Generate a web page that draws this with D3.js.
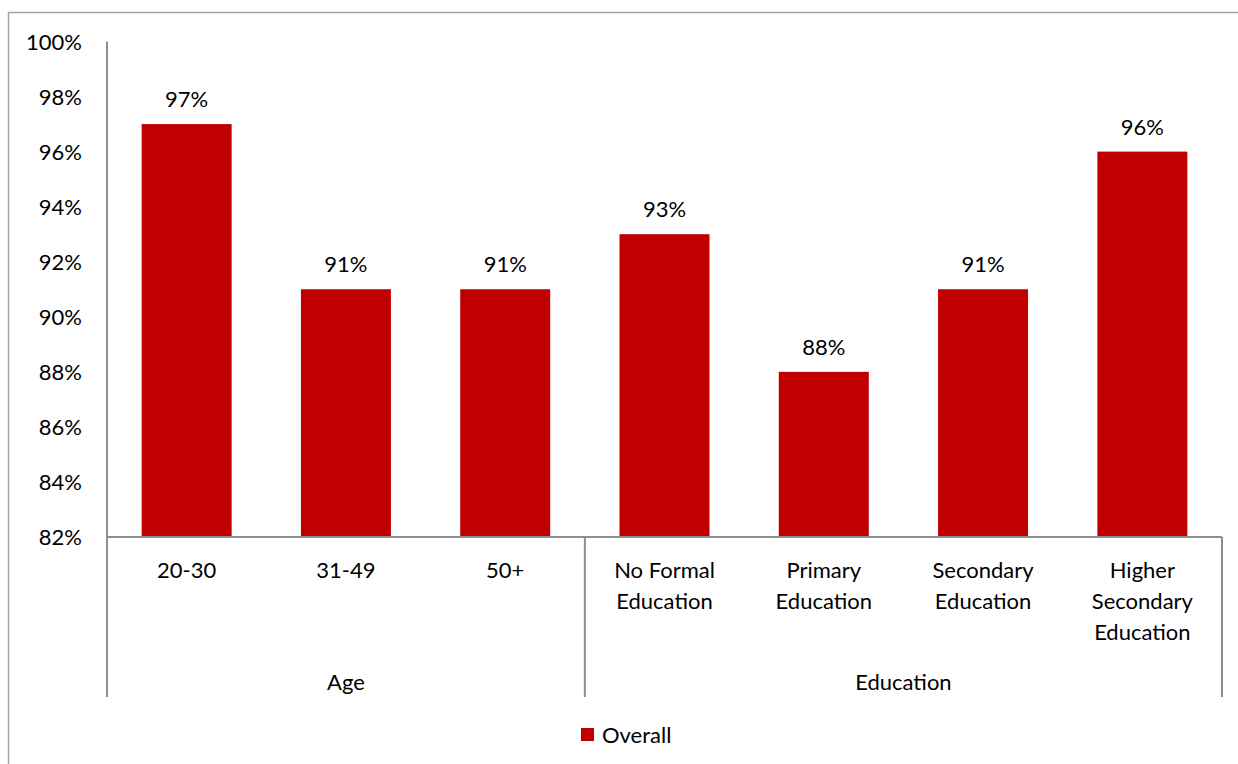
<!DOCTYPE html>
<html>
<head>
<meta charset="utf-8">
<script src="https://cdn.jsdelivr.net/npm/d3@7"></script>
<style>
  html, body { margin: 0; padding: 0; background: #fff; }
  svg { display: block; }
  text { font-family: "Lato", "Open Sans", sans-serif; fill: #000; }
</style>
</head>
<body>
<svg id="chart" width="1238" height="764"></svg>
<script>
// Share of respondents (Overall) by age and education group
const categories = ["20-30", "31-49", "50+", "No Formal Education", "Primary Education", "Secondary Education", "Higher Secondary Education"];
const categoryLines = [["20-30"], ["31-49"], ["50+"], ["No Formal", "Education"], ["Primary", "Education"], ["Secondary", "Education"], ["Higher", "Secondary", "Education"]];
const groups = ["Age", "Education"];
const groupSizes = [3, 4];
const overall = [97, 91, 91, 93, 88, 91, 96];
const yTicks = [82, 84, 86, 88, 90, 92, 94, 96, 98, 100];
const seriesName = "Overall";

const W = 1238, H = 764;
const margin = { left: 107, right: 16, top: 42, bottom: 227 };
const plotBottom = 537, plotTop = 41.5;
const axisColor = "#8e8e8e";
const barColor = "#C00000";

const svg = d3.select("#chart");

// outer frame
svg.append("rect")
  .attr("x", 8.5).attr("y", 12.5)
  .attr("width", W).attr("height", H)
  .attr("fill", "none").attr("stroke", "#a6a6a6").attr("stroke-width", 1.5);

const x = d3.scaleBand()
  .domain(categories)
  .range([107, 1222])
  .paddingInner(0.435)
  .paddingOuter(0.2175);

const y = d3.scaleLinear()
  .domain([82, 100])
  .range([plotBottom, plotTop]);

// y axis
const yAxis = d3.axisLeft(y)
  .tickValues(yTicks)
  .tickSize(0)
  .tickPadding(25)
  .tickFormat(d => d + "%");

const yg = svg.append("g").attr("transform", "translate(107,0)").call(yAxis);
yg.select(".domain").remove();
yg.selectAll("text").style("font-size", "22px").attr("dy", "0.35em");

// bars
svg.append("g").selectAll("rect")
  .data(overall)
  .join("rect")
  .attr("x", (d, i) => x(categories[i]))
  .attr("y", d => y(d))
  .attr("width", x.bandwidth())
  .attr("height", d => y(82) - y(d))
  .attr("fill", barColor);

// value labels
svg.append("g").selectAll("text")
  .data(overall)
  .join("text")
  .attr("x", (d, i) => x(categories[i]) + x.bandwidth() / 2)
  .attr("y", d => y(d) - 17)
  .attr("text-anchor", "middle")
  .style("font-size", "22px")
  .text(d => d + "%");

// axis lines
const lines = svg.append("g").attr("stroke", axisColor).attr("stroke-width", 2).attr("fill", "none");
lines.append("line").attr("x1", 107).attr("x2", 107).attr("y1", plotTop).attr("y2", 697);
lines.append("line").attr("x1", 107).attr("x2", 1222).attr("y1", plotBottom).attr("y2", plotBottom);

// group separators
const step = x.step();
let idx = 0;
const bounds = [107];
groupSizes.forEach(n => { idx += n; bounds.push(107 + x.step() * idx - (idx === categories.length ? 0 : 0)); });
bounds[bounds.length - 1] = 1222;
bounds.slice(1).forEach(bx => {
  lines.append("line").attr("x1", bx).attr("x2", bx).attr("y1", plotBottom).attr("y2", 697);
});

// category labels
const catG = svg.append("g");
categoryLines.forEach((ls, i) => {
  const t = catG.append("text")
    .attr("x", x(categories[i]) + x.bandwidth() / 2)
    .attr("y", 578)
    .attr("text-anchor", "middle")
    .style("font-size", "22px");
  ls.forEach((l, j) => {
    t.append("tspan")
      .attr("x", x(categories[i]) + x.bandwidth() / 2)
      .attr("dy", j === 0 ? 0 : 31)
      .text(l);
  });
});

// group labels
groups.forEach((g, i) => {
  svg.append("text")
    .attr("x", (bounds[i] + bounds[i + 1]) / 2)
    .attr("y", 690)
    .attr("text-anchor", "middle")
    .style("font-size", "22px")
    .text(g);
});

// legend
const lg = svg.append("g").attr("transform", "translate(581,728)");
lg.append("rect").attr("width", 13).attr("height", 13).attr("fill", barColor);
lg.append("text").attr("x", 21).attr("y", 14.5).style("font-size", "22px").text(seriesName);
</script>
</body>
</html>
